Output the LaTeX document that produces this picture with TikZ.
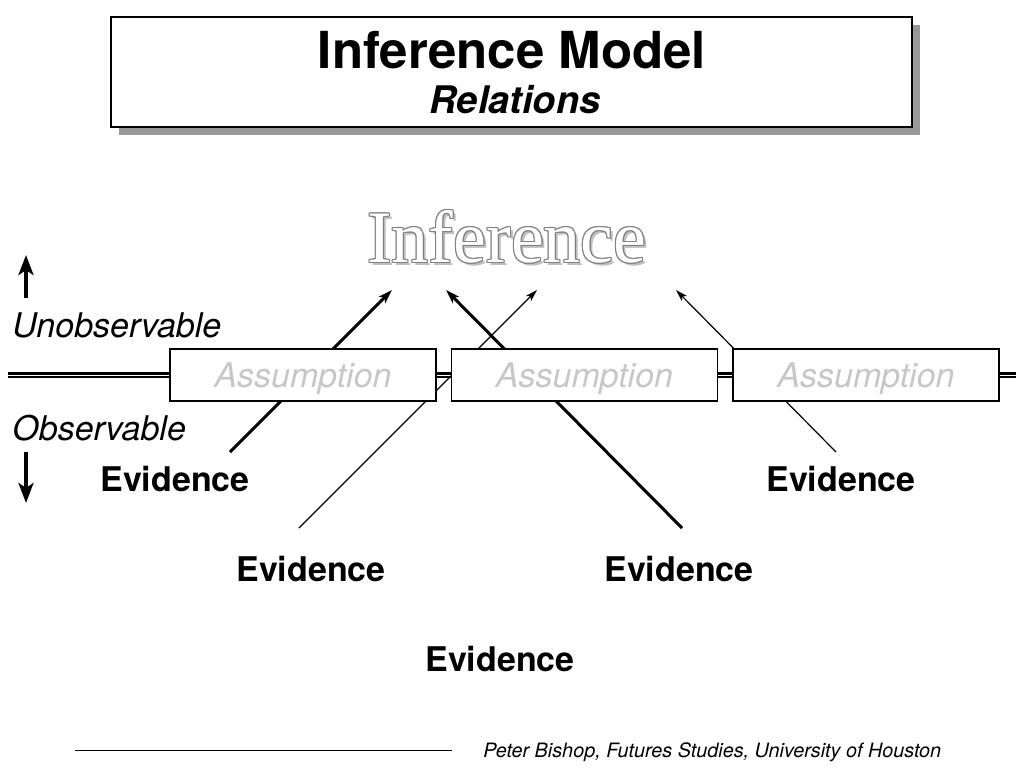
\documentclass[tikz,border=0pt]{standalone}
\usepackage{fontspec}
\setmainfont{TeX Gyre Heros}
\newfontfamily\infserif{Liberation Serif}
\usetikzlibrary{arrows.meta, positioning}
\definecolor{assumgray}{gray}{0.78}

\begin{document}
\begin{tikzpicture}[x=0.5pt, y=-0.5pt]
    \tikzstyle{thick link}=[-{Stealth[length=7pt,width=4.5pt,inset=1.8pt]}, line width=1.5pt]
    \tikzstyle{thin link}=[-{Stealth[length=6pt,width=3.6pt,inset=1.5pt]}, line width=0.6pt]
    \tikzstyle{level arrow}=[-{Stealth[length=10pt,width=7.5pt,inset=2.5pt]}, line width=2pt]
    \tikzstyle{assumption}=[draw=black, fill=white, line width=0.6pt, minimum width=133pt, minimum height=26pt, inner sep=0pt, text depth=0pt, text=assumgray, font=\fontsize{17}{20}\selectfont\itshape]
    \tikzstyle{evidence}=[font=\fontsize{17}{20}\selectfont\bfseries]
    \tikzstyle{side}=[anchor=west, inner sep=0pt, font=\fontsize{17}{20}\selectfont\itshape]
    \tikzstyle{inference}=[anchor=base, inner sep=0pt, font=\infserif\fontsize{37}{40}\selectfont]

    \useasboundingbox (0,0) rectangle (1024,768);

    % title
    \fill[black!40] (119,25) rectangle (920,135);
    \node[draw=black, fill=white, line width=0.75pt, minimum width=400.5pt, minimum height=55pt, inner sep=0pt] (titlebox) at (511.5,72) {};
    \node[anchor=base, inner sep=0pt, font=\fontsize{25.5}{30}\selectfont\bfseries] (title) at (512,68) {Inference Model};
    \node[anchor=base, inner sep=0pt, font=\fontsize{19}{22}\selectfont\bfseries\itshape] (subtitle) at (515,113) {Relations};

    % embossed word
    \coordinate (infpos) at (507,262);
    \node[inference, text=black!25] at ([shift={(3,3)}]infpos) {Inference};
    \foreach \dx/\dy in {-1/0,1/0,0/-1,0/1,-1/-1,1/1,-1/1,1/-1}
        \node[inference, text=black!50] at ([shift={(\dx,\dy)}]infpos) {Inference};
    \node[inference, text=white] (inf) at (infpos) {Inference};

    % observable levels
    \coordinate (up-tail) at (26,298);
    \coordinate (up-tip) at (26,255);
    \coordinate (down-tail) at (26,452);
    \coordinate (down-tip) at (26,503);
    \draw[level arrow] (up-tail) -- (up-tip);
    \draw[level arrow] (down-tail) -- (down-tip);
    \node[side] (unobs) at (12,325) {Unobservable};
    \node[side] (obs) at (12,428) {Observable};

    % evidence
    \node[evidence] (E-1) at (175,479) {Evidence};
    \node[evidence] (E-2) at (311,569) {Evidence};
    \node[evidence] (E-3) at (679,569) {Evidence};
    \node[evidence] (E-4) at (841,479) {Evidence};
    \node[evidence] (E-5) at (500,659) {Evidence};

    \coordinate (E-1-tail) at (230,452);
    \coordinate (E-2-tail) at (299,528);
    \coordinate (E-3-tail) at (682,528);
    \coordinate (E-4-tail) at (836,452);
    \coordinate (I-1) at (392,290);
    \coordinate (I-2) at (537,290);
    \coordinate (I-3) at (446,290);
    \coordinate (I-4) at (676,290);

    \draw[thick link] (E-1-tail) -- (I-1);
    \draw[thin link] (E-2-tail) -- (I-2);
    \draw[thick link] (E-3-tail) -- (I-3);
    \draw[thin link] (E-4-tail) -- (I-4);

    % boundary
    \draw[line width=1.5pt] (8,373) -- (1016,373);
    \draw[line width=1pt] (8,377) -- (1016,377);

    % assumptions
    \node[assumption] (A-1) at (303,375) {Assumption};
    \node[assumption] (A-2) at (584.5,375) {Assumption};
    \node[assumption] (A-3) at (866,375) {Assumption};

    % footer
    \draw[line width=0.5pt] (75,750) -- (452,750);
    \node[anchor=base west, inner sep=0pt, font=\fontsize{9.9}{12}\selectfont\itshape] (credit) at (483,757) {Peter Bishop, Futures Studies, University of Houston};
\end{tikzpicture}
\end{document}
